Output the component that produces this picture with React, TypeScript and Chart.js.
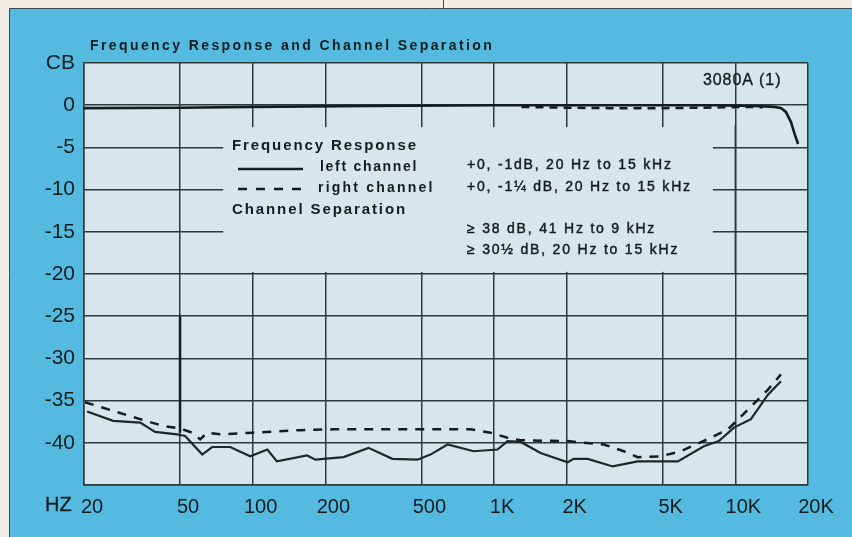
import React, { useEffect, useRef } from "react";
import { Chart, registerables } from "chart.js";

Chart.register(...registerables);

// Frequency response (dB) vs frequency (Hz)
const frLeftFreq = [20, 50, 100, 300, 1000, 3000, 8000, 12000, 14500, 15500, 16200, 17000, 17600, 18200];
const frLeftDb = [-0.35, -0.3, -0.2, -0.1, 0, 0, 0, -0.1, -0.2, -0.35, -0.8, -2.0, -3.4, -4.6];
const frRightFreq = [1300, 2000, 3000, 5000, 7000, 9000, 11000, 13000];
const frRightDb = [-0.2, -0.3, -0.35, -0.35, -0.3, -0.25, -0.2, -0.25];

// Channel separation
const sepLeftFreq = [20.6, 26.4, 34.2, 39.4, 48.6, 52.5, 61.8, 67.9, 80.7, 97.7, 115, 126, 168, 182, 238, 302, 379, 482, 545, 642, 823, 1034, 1138, 1289, 1560, 2019, 2138, 2444, 3104, 3940, 5776, 7406, 8544, 9864, 11600, 13650, 15450];
const sepLeftDb = [-36.3, -37.4, -37.6, -38.7, -39.0, -39.2, -41.4, -40.5, -40.5, -41.6, -40.8, -42.2, -41.5, -42.0, -41.7, -40.6, -41.9, -42.0, -41.4, -40.2, -41.0, -40.8, -39.8, -39.9, -41.2, -42.3, -41.9, -41.9, -42.8, -42.2, -42.2, -40.4, -39.8, -38.2, -37.2, -34.3, -32.7];
const sepRightFreq = [20.2, 25.6, 34.2, 42.5, 50, 56.1, 60.6, 64.8, 73.3, 100.5, 157, 216, 482, 545, 799, 967, 1138, 1289, 2019, 2848, 3448, 3940, 4910, 5944, 7918, 9312, 10544, 13650, 15450];
const sepRightDb = [-35.2, -36.1, -37.2, -38.0, -38.3, -38.8, -39.6, -38.8, -39.0, -38.8, -38.5, -38.4, -38.4, -38.4, -38.4, -38.8, -39.4, -39.7, -39.8, -40.2, -41.0, -41.7, -41.6, -41.0, -39.4, -38.4, -36.9, -33.7, -31.9];

// pen mark at 50 Hz
const markFreq = [50, 50];
const markDb = [-25, -38.8];

// axis ticks
const xTickValues = [20, 50, 100, 200, 500, 1000, 2000, 5000, 10000, 20000];
const xTickLabels = ["20", "50", "100", "200", "500", "1K", "2K", "5K", "10K", "20K"];
const yTickValues = [5, 0, -5, -10, -15, -20, -25, -30, -35, -40, -45];
const yTickLabels = ["CB", "0", "-5", "-10", "-15", "-20", "-25", "-30", "-35", "-40", ""];

const BLUE = "#55badf";
const PLOT_BG = "#d6e6ea";
const CREAM = "#f1eee6";
const INK = "#151c20";
const GRID = "#2c3a3c";
const FONT = "'Liberation Sans', Arial, sans-serif";

const pts = (xs: number[], ys: number[]) => xs.map((x, i) => ({ x, y: ys[i] }));

function text(ctx: any, s: string, x: number, y: number, font: string, spacing: number, stroke = 0) {
  ctx.font = font;
  ctx.letterSpacing = `${spacing}px`;
  ctx.fillText(s, x, y);
  if (stroke > 0) {
    ctx.lineWidth = stroke;
    ctx.strokeStyle = INK;
    ctx.strokeText(s, x, y);
  }
  ctx.letterSpacing = "0px";
}

export default function App() {
  const ref = useRef<HTMLCanvasElement | null>(null);

  useEffect(() => {
    if (!ref.current) return;

    const decor = {
      id: "decor",
      beforeDraw(chart: any) {
        const { ctx, chartArea: a } = chart;
        ctx.save();
        ctx.fillStyle = CREAM;
        ctx.fillRect(0, 0, chart.width, chart.height);
        ctx.fillStyle = BLUE;
        ctx.fillRect(10, 9, chart.width - 10, chart.height - 9);
        ctx.strokeStyle = "#3a4a50";
        ctx.lineWidth = 1;
        ctx.beginPath();
        ctx.moveTo(9.5, chart.height);
        ctx.lineTo(9.5, 8.5);
        ctx.lineTo(chart.width, 8.5);
        ctx.stroke();
        ctx.beginPath();
        ctx.moveTo(443.5, 0);
        ctx.lineTo(443.5, 8);
        ctx.stroke();
        ctx.fillStyle = PLOT_BG;
        ctx.fillRect(a.left, a.top, a.right - a.left, a.bottom - a.top);
        ctx.fillStyle = INK;
        ctx.textBaseline = "middle";
        ctx.textAlign = "left";
        text(ctx, "Frequency Response and Channel Separation", 90, 46, `bold 14px ${FONT}`, 2.4);
        text(ctx, "HZ", 45, 505, `20px ${FONT}`, 0, 0.3);
        ctx.restore();
      },
      beforeDatasetsDraw(chart: any) {
        const { ctx } = chart;
        const xs = chart.scales.x;
        const ys = chart.scales.y;
        ctx.save();
        // legend box masks the grid
        const l = xs.getPixelForValue(75.5);
        const r = xs.getPixelForValue(8070);
        const t = ys.getPixelForValue(-2.6);
        const b = ys.getPixelForValue(-19.75);
        ctx.fillStyle = PLOT_BG;
        ctx.fillRect(l, t, r - l, b - t);
        ctx.strokeStyle = GRID;
        ctx.lineWidth = 1.5;
        const x10 = xs.getPixelForValue(10000);
        ctx.beginPath();
        ctx.moveTo(x10, t - 2);
        ctx.lineTo(x10, b + 2);
        ctx.stroke();

        ctx.fillStyle = INK;
        ctx.textBaseline = "middle";
        ctx.textAlign = "left";
        text(ctx, "Frequency Response", 232, 146, `bold 15px ${FONT}`, 1.9);
        text(ctx, "Channel Separation", 232, 210, `bold 15px ${FONT}`, 1.9);
        text(ctx, "left channel", 320, 167, `bold 14px ${FONT}`, 1.7);
        text(ctx, "right channel", 318, 188, `bold 14px ${FONT}`, 2.2);
        text(ctx, "+0, -1dB, 20 Hz to 15 kHz", 467, 165, `14px ${FONT}`, 1.8, 0.45);
        text(ctx, "+0, -1\u00BC dB, 20 Hz to 15 kHz", 467, 187, `14px ${FONT}`, 1.8, 0.45);
        text(ctx, "\u2265 38 dB, 41 Hz to 9 kHz", 467, 229, `14px ${FONT}`, 1.8, 0.45);
        text(ctx, "\u2265 30\u00BD dB, 20 Hz to 15 kHz", 467, 250, `14px ${FONT}`, 1.8, 0.45);
        text(ctx, "3080A (1)", 703, 81, `16px ${FONT}`, 0.9, 0.35);
        // legend samples
        ctx.strokeStyle = INK;
        ctx.lineWidth = 2.5;
        ctx.beginPath();
        ctx.moveTo(238, 169);
        ctx.lineTo(303, 169);
        ctx.stroke();
        ctx.setLineDash([9, 9]);
        ctx.beginPath();
        ctx.moveTo(238, 189);
        ctx.lineTo(306, 189);
        ctx.stroke();
        ctx.restore();
      },
    };

    const chart = new Chart(ref.current, {
      type: "line",
      data: {
        datasets: [
          {
            label: "FR right",
            data: pts(frRightFreq, frRightDb),
            borderColor: INK,
            borderWidth: 2.5,
            borderDash: [8, 6],
            pointRadius: 0,
            tension: 0,
          },
          {
            label: "FR left",
            data: pts(frLeftFreq, frLeftDb),
            borderColor: INK,
            borderWidth: 2.6,
            pointRadius: 0,
            tension: 0,
          },
          {
            label: "Sep right",
            data: pts(sepRightFreq, sepRightDb),
            borderColor: INK,
            borderWidth: 2.5,
            borderDash: [9, 8],
            pointRadius: 0,
            tension: 0,
          },
          {
            label: "Sep left",
            data: pts(sepLeftFreq, sepLeftDb),
            borderColor: "#1e2628",
            borderWidth: 2.2,
            pointRadius: 0,
            tension: 0,
          },
          {
            label: "mark",
            data: pts(markFreq, markDb),
            borderColor: INK,
            borderWidth: 2.5,
            pointRadius: 0,
          },
        ],
      },
      options: {
        animation: false,
        responsive: false,
        events: [],
        layout: { padding: { left: 0, top: 63, right: 44, bottom: 0 } },
        plugins: { legend: { display: false }, tooltip: { enabled: false } },
        scales: {
          x: {
            type: "logarithmic",
            min: 20,
            max: 20000,
            afterBuildTicks: (s: any) => {
              s.ticks = xTickValues.map((v) => ({ value: v }));
            },
            afterFit: (s: any) => {
              s.height = 52;
            },
            grid: { color: GRID, lineWidth: 1.5, drawTicks: false },
            border: { color: GRID, width: 1.5 },
            ticks: {
              autoSkip: false,
              maxRotation: 0,
              minRotation: 0,
              padding: 10,
              labelOffset: 8,
              color: INK,
              font: { family: FONT, size: 20 },
              callback: (v: any) => {
                const i = xTickValues.indexOf(Number(v));
                return i >= 0 ? xTickLabels[i] : "";
              },
            },
          },
          y: {
            type: "linear",
            min: -45,
            max: 5,
            afterBuildTicks: (s: any) => {
              s.ticks = yTickValues.map((v) => ({ value: v }));
            },
            afterFit: (s: any) => {
              s.width = 84;
            },
            grid: { color: GRID, lineWidth: 1.5, drawTicks: false },
            border: { color: GRID, width: 1.5 },
            ticks: {
              padding: 9,
              color: INK,
              font: { family: FONT, size: 21 },
              callback: (v: any) => {
                const i = yTickValues.indexOf(Number(v));
                return i >= 0 ? yTickLabels[i] : "";
              },
            },
          },
        },
      },
      plugins: [decor],
    } as any);

    return () => chart.destroy();
  }, []);

  return (
    <div style={{ position: "fixed", left: 0, top: 0, width: 852, height: 537 }}>
      <canvas ref={ref} width={852} height={537} style={{ width: 852, height: 537, display: "block" }} />
    </div>
  );
}
